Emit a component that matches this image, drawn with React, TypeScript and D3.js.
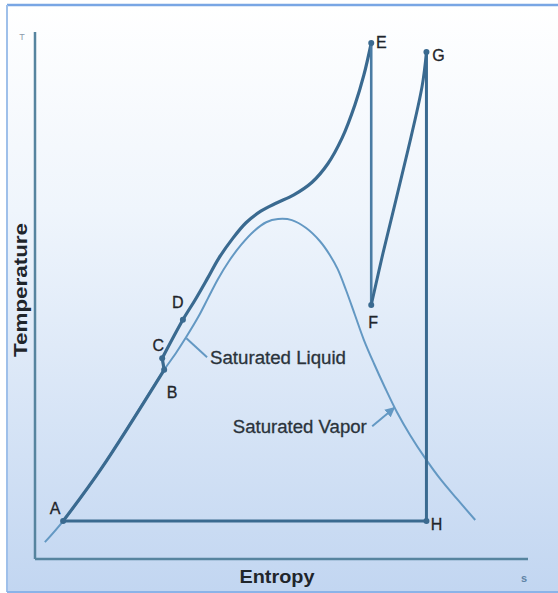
import React from "react";
import * as d3 from "d3";

// Data in arbitrary units: entropy s (0-100), temperature T (0-100)
const cycleAB: [number, number][] = [
  [5.7, 7.2], [13.4, 17.1], [26.2, 35.9],
];
const cycleBC: [number, number][] = [
  [26.2, 35.9], [25.8, 38.1],
];
const cycleCE: [number, number][] = [
  [25.8, 38.1], [30.0, 45.4], [32.5, 49.2], [34.9, 53.1], [37.3, 57.1],
  [40.0, 60.7], [42.8, 63.8], [45.8, 66.0], [49.1, 67.6], [52.5, 69.1],
  [56.2, 71.5], [59.4, 75.0], [62.3, 79.9], [64.9, 86.2], [66.7, 91.8],
  [68.2, 97.9],
];
const cycleEF: [number, number][] = [
  [68.2, 97.9], [68.2, 48.2],
];
const cycleFG: [number, number][] = [
  [68.2, 48.2], [70.6, 58.1], [75.5, 77.0], [78.5, 89.6], [79.4, 96.2],
];
const cycleGHA: [number, number][] = [
  [79.4, 96.2], [79.4, 7.2], [5.7, 7.2],
];
const dome: [number, number][] = [
  [2.0, 3.2], [5.7, 7.2], [13.4, 17.1], [26.2, 35.9],
  [28.6, 39.1], [30.8, 42.3], [33.1, 45.9], [35.1, 49.5], [37.1, 53.1],
  [39.4, 56.6], [41.8, 59.6], [44.4, 62.2], [46.9, 63.9], [49.3, 64.5],
  [52.1, 64.3], [55.0, 62.8], [57.8, 60.3], [59.8, 57.7], [61.4, 55.0],
  [63.1, 51.0], [64.9, 46.3], [66.7, 41.6], [68.8, 37.0], [71.0, 32.5],
  [73.4, 27.9], [76.1, 23.5], [79.1, 19.2], [82.2, 15.2], [85.6, 11.4],
  [89.3, 7.4],
];
const pointNames = ["A", "B", "C", "D", "E", "F", "G", "H"];
const pointS = [5.7, 26.2, 25.8, 30.0, 68.2, 68.2, 79.4, 79.4];
const pointT = [7.2, 35.9, 38.1, 45.4, 97.9, 48.2, 96.2, 7.2];
const labelDx = [-8, 8, -4, -5, 10, 2, 12, 10];
const labelDy = [-13, 23, -13, -17, -1, 18, 3, 3];

const liquidLabel = { text: "Saturated Liquid", s: 35.5, T: 37.0 };
const liquidLeader: [number, number][] = [[30.7, 41.9], [34.9, 38.3]];
const vaporLabel = { text: "Saturated Vapor", s: 67.3, T: 23.9 };
const vaporLeader: [number, number][] = [[68.4, 25.2], [72.9, 28.7]];

const xTitle = "Entropy";
const yTitle = "Temperature";
const xUnit = "s";
const yUnit = "T";

const W = 558;
const H = 593;

export default function App() {
  const x = d3.scaleLinear().domain([0, 100]).range([35, 528]);
  const y = d3.scaleLinear().domain([0, 100]).range([559, 32]);
  const smooth = d3
    .line<[number, number]>()
    .x((d) => x(d[0]))
    .y((d) => y(d[1]))
    .curve(d3.curveCatmullRom.alpha(0.5));
  const straight = d3
    .line<[number, number]>()
    .x((d) => x(d[0]))
    .y((d) => y(d[1]));

  const dark = "#3a6a90";
  const mid = "#4a7ca4";
  const light = "#6398c3";
  const axisCol = "#56849f";
  const textCol = "#1f252b";
  const font = "'Liberation Sans', Arial, sans-serif";

  return (
    <div style={{ position: "absolute", left: 0, top: 0 }}>
      <svg width={W} height={H} style={{ display: "block" }}>
        <defs>
          <linearGradient id="bg" x1="0" y1="0" x2="0" y2="1">
            <stop offset="0" stopColor="#ffffff" />
            <stop offset="0.35" stopColor="#eff5fc" />
            <stop offset="1" stopColor="#c2d6f1" />
          </linearGradient>
          <marker id="arr" viewBox="0 0 10 10" refX="9" refY="5" markerWidth="5" markerHeight="5" orient="auto">
            <path d="M0,0 L10,5 L0,10 z" fill={light} />
          </marker>
        </defs>
        <rect x={0} y={0} width={W} height={H} fill="#ffffff" />
        <rect x={7} y={5} width={W} height={586} fill="url(#bg)" />
        <line x1={7} x2={W} y1={5} y2={5} stroke="#79a6e4" strokeWidth={2.5} />
        <line x1={7} x2={7} y1={5} y2={592} stroke="#9fc0ea" strokeWidth={2} />
        <line x1={7} x2={W} y1={592} y2={592} stroke="#8bb3e8" strokeWidth={2} />

        {/* axes */}
        <line x1={x(0)} x2={x(0)} y1={y(100)} y2={y(0)} stroke={axisCol} strokeWidth={2.5} />
        <line x1={x(0)} x2={x(100)} y1={y(0)} y2={y(0)} stroke={axisCol} strokeWidth={2.5} />
        <text x={22} y={40} fontSize={9} fill="#8c9aac" fontFamily={font} textAnchor="middle">{yUnit}</text>
        <text x={524} y={582} fontSize={11} fontWeight="bold" fill="#5f84a6" fontFamily={font} textAnchor="middle">{xUnit}</text>
        <text x={277} y={583} fontSize={19} fontWeight="bold" fill={textCol} fontFamily={font} textAnchor="middle" textLength={75} lengthAdjust="spacingAndGlyphs">{xTitle}</text>
        <text transform="translate(27,290) rotate(-90)" fontSize={19} fontWeight="bold" fill={textCol} fontFamily={font} textAnchor="middle" textLength={134} lengthAdjust="spacingAndGlyphs">{yTitle}</text>

        {/* saturation dome */}
        <path d={smooth(dome) || ""} fill="none" stroke={light} strokeWidth={2} />

        {/* cycle */}
        <path d={smooth(cycleAB) || ""} fill="none" stroke={dark} strokeWidth={3.2} />
        <path d={straight(cycleBC) || ""} fill="none" stroke={dark} strokeWidth={3.2} />
        <path d={smooth(cycleCE) || ""} fill="none" stroke={dark} strokeWidth={3.2} strokeLinecap="round" />
        <path d={straight(cycleEF) || ""} fill="none" stroke={mid} strokeWidth={2.6} />
        <path d={smooth(cycleFG) || ""} fill="none" stroke={dark} strokeWidth={3} strokeLinecap="round" />
        <path d={straight(cycleGHA) || ""} fill="none" stroke={dark} strokeWidth={3} strokeLinejoin="round" />

        {/* points */}
        {pointNames.map((n, i) => (
          <g key={n}>
            <circle cx={x(pointS[i])} cy={y(pointT[i])} r={3} fill={dark} />
            <text
              x={x(pointS[i]) + labelDx[i]}
              y={y(pointT[i]) + labelDy[i]}
              fontSize={16}
              fill={textCol}
              stroke={textCol}
              strokeWidth={0.3}
              fontFamily={font}
              textAnchor="middle"
              dominantBaseline="central"
            >
              {n}
            </text>
          </g>
        ))}

        {/* annotations */}
        <path d={straight(liquidLeader) || ""} stroke={light} strokeWidth={2} fill="none" />
        <text x={x(liquidLabel.s)} y={y(liquidLabel.T)} fontSize={18} fill="#2a333b" stroke="#2a333b" strokeWidth={0.3} fontFamily={font} textLength={136} lengthAdjust="spacingAndGlyphs">{liquidLabel.text}</text>
        <path d={straight(vaporLeader) || ""} stroke={light} strokeWidth={2} fill="none" markerEnd="url(#arr)" />
        <text x={x(vaporLabel.s)} y={y(vaporLabel.T)} fontSize={18} fill="#2a333b" stroke="#2a333b" strokeWidth={0.3} fontFamily={font} textAnchor="end" textLength={134} lengthAdjust="spacingAndGlyphs">{vaporLabel.text}</text>
      </svg>
    </div>
  );
}
